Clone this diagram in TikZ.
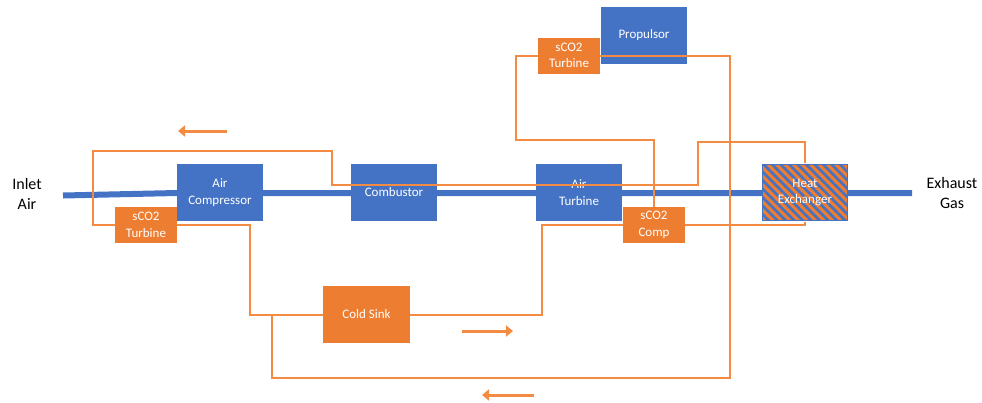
\documentclass[tikz,border=0pt]{standalone}
\usepackage{fontspec}
\setmainfont{Carlito}
\usetikzlibrary{arrows.meta, patterns.meta}
\definecolor{UnitBlue}{RGB}{68, 114, 196}
\definecolor{CycleOrange}{RGB}{237, 125, 49}
\definecolor{PipeOrange}{RGB}{243, 139, 66}

\begin{document}
\begin{tikzpicture}[x=1pt, y=-1pt,
    blk/.style={fill=UnitBlue, text=white, minimum width=86pt, minimum height=57pt,
                align=center, inner sep=1pt, font=\fontsize{13}{16.5}\selectfont},
    sco/.style={fill=CycleOrange, text=white, minimum width=62pt, minimum height=36pt,
                align=center, inner sep=1pt, font=\fontsize{13}{16.5}\selectfont},
    pipe/.style={PipeOrange, line width=2pt},
    flow/.style={PipeOrange, line width=3pt, -{Triangle[length=7pt, width=11pt]}},
    side/.style={align=center, font=\fontsize{16}{19.5}\selectfont}]
    \useasboundingbox (0,0) rectangle (982,402);

    % main air path
    \draw[UnitBlue, line width=6pt] (63,195.5) -- (177,193) -- (912,193);

    % blue units on the air path and the propulsor
    \foreach \x/\y/\name/\txt in {220/192.5/comp/{Air\\Compressor},
                                  394/192.5/comb/{Combustor},
                                  579/192.5/airt/{Air\\Turbine},
                                  644/35.5/prop/{Propulsor}} {
        \node[blk] (\name) at (\x, \y) {\txt};
    }
    \node[blk, preaction={fill=CycleOrange}, fill=none, draw=UnitBlue, line width=1.5pt,
          pattern={Lines[angle=-45, distance=6pt, line width=2.6pt]}, pattern color=UnitBlue,
          minimum width=85pt, minimum height=56pt] (hx) at (805,192.5) {Heat\\Exchanger};

    % sCO2 loop units
    \node[sco] (turbl) at (146,225) {sCO2\\Turbine};
    \node[sco] (scomp) at (654,225) {sCO2\\Comp};
    \node[sco] (turbt) at (569,55.5) {sCO2\\Turbine};
    \node[sco, minimum width=87pt, minimum height=57pt] (sink) at (366.5,314.5) {Cold Sink};
    \coordinate (tee) at (272,314.5);

    % piping
    \draw[pipe] (turbl.west) -| (93,151) -| (332,185) -| (698,142) -| (hx.north);
    \draw[pipe] (turbl.east) -| (250,314.5) -- (sink.west);
    \draw[pipe] (sink.east) -| (542,225) -- (scomp.west);
    \draw[pipe] (scomp.east) -| (hx.south);
    \draw[pipe] (scomp.north) |- (516,140) |- (turbt.west);
    \draw[pipe] (turbt.east) -| (730,378) -| (tee);

    % flow direction
    \draw[flow] (227,131) -- (178,131);
    \draw[flow] (462,331) -- (513,331);
    \draw[flow] (534,395) -- (482,395);

    \node[side] (inlet) at (27,194) {Inlet\\Air};
    \node[side] (exhaust) at (952,193) {Exhaust\\Gas};
\end{tikzpicture}
\end{document}
